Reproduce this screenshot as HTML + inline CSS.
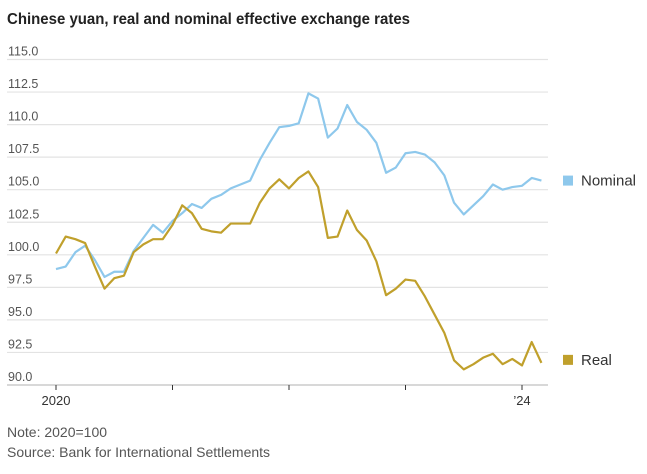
<!DOCTYPE html>
<html><head><meta charset="utf-8"><style>
body{margin:0;background:#fff;font-family:"Liberation Sans",sans-serif;}
#w{position:relative;width:647px;height:474px;overflow:hidden}
</style></head><body>
<div id="w">
<svg id="c" width="647" height="474">
<text x="7" y="24" font-size="15.5" font-weight="bold" fill="#222" textLength="403" lengthAdjust="spacingAndGlyphs">Chinese yuan, real and nominal effective exchange rates</text>
<g id="grid"></g><g id="series"></g>
<text x="7" y="437" font-size="14" fill="#555">Note: 2020=100</text>
<text x="7" y="457" font-size="14" fill="#555">Source: Bank for International Settlements</text>
</svg></div>
<script>
const yTicks=[90,92.5,95,97.5,100,102.5,105,107.5,110,112.5,115];
const xTickLabels=["2020","","","","’24"];
const nominal=[98.9,99.1,100.2,100.7,99.6,98.3,98.7,98.7,100.3,101.3,102.3,101.7,102.6,103.2,103.9,103.6,104.3,104.6,105.1,105.4,105.7,107.3,108.6,109.8,109.9,110.1,112.4,112.0,109.0,109.7,111.5,110.2,109.6,108.6,106.3,106.7,107.8,107.9,107.7,107.1,106.1,104.0,103.1,103.8,104.5,105.4,105.0,105.2,105.3,105.9,105.7];
const real=[100.1,101.4,101.2,100.9,99.1,97.4,98.2,98.4,100.2,100.8,101.2,101.2,102.3,103.8,103.2,102.0,101.8,101.7,102.4,102.4,102.4,104.0,105.1,105.8,105.1,105.9,106.4,105.2,101.3,101.4,103.4,101.9,101.1,99.5,96.9,97.4,98.1,98.0,96.8,95.4,94.0,91.9,91.2,91.6,92.1,92.4,91.6,92.0,91.5,93.3,91.7];
const NS="http://www.w3.org/2000/svg";
const x0=56,mw=116.5/12,yb=385,ppu=13.02,xr=548;
const X=i=>x0+i*mw, Y=v=>yb-(v-90)*ppu;
const grid=document.getElementById('grid'),ser=document.getElementById('series');
function mk(t,a,p){const e=document.createElementNS(NS,t);for(const k in a)e.setAttribute(k,a[k]);p.appendChild(e);return e;}
yTicks.forEach(v=>{
 const l=mk('line',{x1:7,x2:xr,y1:Y(v),y2:Y(v),stroke:v===90?'#ccc':'#e3e3e3','stroke-width':v===90?1.5:1.2},grid);
 
 
 const t=mk('text',{x:8,y:Y(v)-4,'font-size':12.5,fill:'#555'},grid);t.textContent=v.toFixed(1);
 
 
});
xTickLabels.forEach((s,k)=>{
 const x=X(k*12);
 const l=mk('line',{x1:x,x2:x,y1:yb,y2:yb+5,stroke:'#333','stroke-width':1},grid);
 
 
 if(s){const t=mk('text',{x:x,y:405,'font-size':13,fill:'#333','text-anchor':'middle'},grid);t.textContent=s;
 
 }
});
function line(d,col,name){
 const p=mk('polyline',{points:d.map((v,i)=>X(i)+','+Y(v)).join(' '),fill:'none',stroke:col,'stroke-width':2.2,'stroke-linejoin':'round'},ser);
 
 
}
line(nominal,'#8ec8ec','nominal-line');
line(real,'#c0a02c','real-line');
[['Nominal','#8ec8ec',nominal,0],['Real','#c0a02c',real,-3]].forEach(([n,c,d,off])=>{
 const y=Y(d[d.length-1])+off;
 const r=mk('rect',{x:563,y:y-5,width:10,height:10,fill:c},ser);
 
 
 const t=mk('text',{x:581,y:y+5,'font-size':15,fill:'#333'},ser);t.textContent=n;
 
 
});
</script></body></html>
